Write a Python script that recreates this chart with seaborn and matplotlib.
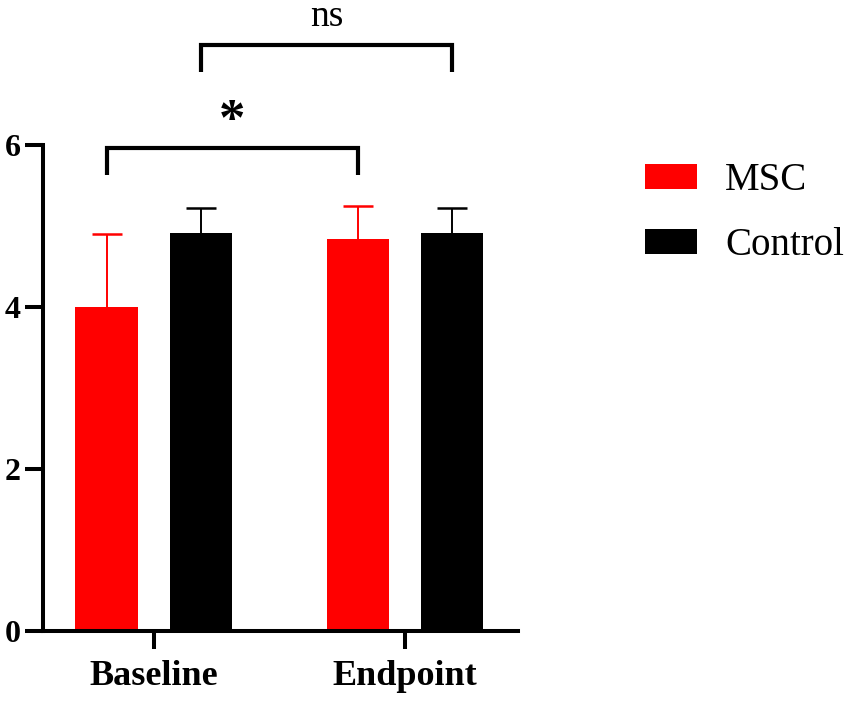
import matplotlib
matplotlib.use("Agg")
import matplotlib.pyplot as plt
import seaborn as sns
import pandas as pd
import numpy as np

# ---- data ----
timepoints = ["Baseline", "Endpoint"]
groups = ["MSC", "Control"]
msc_means = [4.00, 4.84]
msc_err = [0.90, 0.41]
control_means = [4.91, 4.91]
control_err = [0.31, 0.31]
y_ticks = [0, 2, 4, 6]
sig_labels = ["*", "ns"]
colors = {"MSC": "#ff0000", "Control": "#000000"}

df = pd.DataFrame({
    "time": timepoints * 2,
    "group": ["MSC"] * 2 + ["Control"] * 2,
    "value": msc_means + control_means,
    "err": msc_err + control_err,
})

sns.set_style("ticks")
plt.rcParams["font.family"] = ["Liberation Serif", "DejaVu Serif"]
plt.rcParams["text.color"] = "black"
plt.rcParams["xtick.color"] = "black"
plt.rcParams["ytick.color"] = "black"
plt.rcParams["axes.labelcolor"] = "black"

fig = plt.figure(figsize=(8.51, 7.01), dpi=100)
ax = fig.add_axes([43 / 851, 1 - 631 / 701, (518 - 43) / 851, (631 - 145) / 701])

sns.barplot(data=df, x="time", y="value", hue="group", hue_order=groups,
            order=timepoints, palette=colors, saturation=1, width=0.75,
            gap=0.333, errorbar=None, linewidth=0, ax=ax, legend=True)

# error bars (upper only) at bar centres
centers = {}
for bar_group, patches in zip(groups, ax.containers):
    for t, p in zip(timepoints, patches):
        centers[(bar_group, t)] = p.get_x() + p.get_width() / 2
for _, row in df.iterrows():
    x = centers[(row["group"], row["time"])]
    eb = ax.errorbar([x], [row["value"]], yerr=[[0], [row["err"]]], fmt="none",
                     ecolor=colors[row["group"]], elinewidth=1.4, capsize=11,
                     capthick=1.8, zorder=1)
    caps = eb[1]
    if len(caps) > 1:
        caps[0].set_visible(False)

ax.set_ylim(0, 6)
ax.set_xlim(-0.442, 1.45)
ax.set_yticks(y_ticks)
ax.set_yticklabels([str(v) for v in y_ticks], fontsize=23, fontweight="bold")
ax.set_xticks(range(len(timepoints)))
ax.set_xticklabels(timepoints, fontsize=26, fontweight="bold")
ax.set_xlabel("")
ax.set_ylabel("")
sns.despine(ax=ax)
for s in ["left", "bottom"]:
    ax.spines[s].set_linewidth(2.9)
    ax.spines[s].set_color("black")
ax.tick_params(axis="both", width=2.9, length=13, color="black")
ax.tick_params(axis="x", pad=8)
ax.tick_params(axis="y", pad=3)

# significance brackets
def bracket(x1, x2, y, drop, label, ty, size, weight, va):
    ax.plot([x1, x1, x2, x2], [y - drop, y, y, y - drop], color="black",
            lw=3.0, clip_on=False, solid_capstyle="butt", solid_joinstyle="miter")
    ax.text((x1 + x2) / 2, ty, label, ha="center", va=va,
            fontsize=size, fontweight=weight, clip_on=False)

bracket(centers[("MSC", "Baseline")], centers[("MSC", "Endpoint")], 5.96, 0.33,
        sig_labels[0], 6.28, 38, "bold", "center")
bracket(centers[("Control", "Baseline")], centers[("Control", "Endpoint")], 7.23, 0.33,
        sig_labels[1], 7.47, 27, "normal", "baseline")

# legend
handles, labels = ax.get_legend_handles_labels()
ax.legend(handles, labels, loc="upper left", bbox_to_anchor=(645 / 851, 1 - 162 / 701),
          bbox_transform=fig.transFigure, frameon=False, fontsize=28,
          handlelength=1.34, handleheight=0.62, handletextpad=0.72,
          labelspacing=0.72, borderpad=0, borderaxespad=0)

fig.savefig("out.png", dpi=100)
